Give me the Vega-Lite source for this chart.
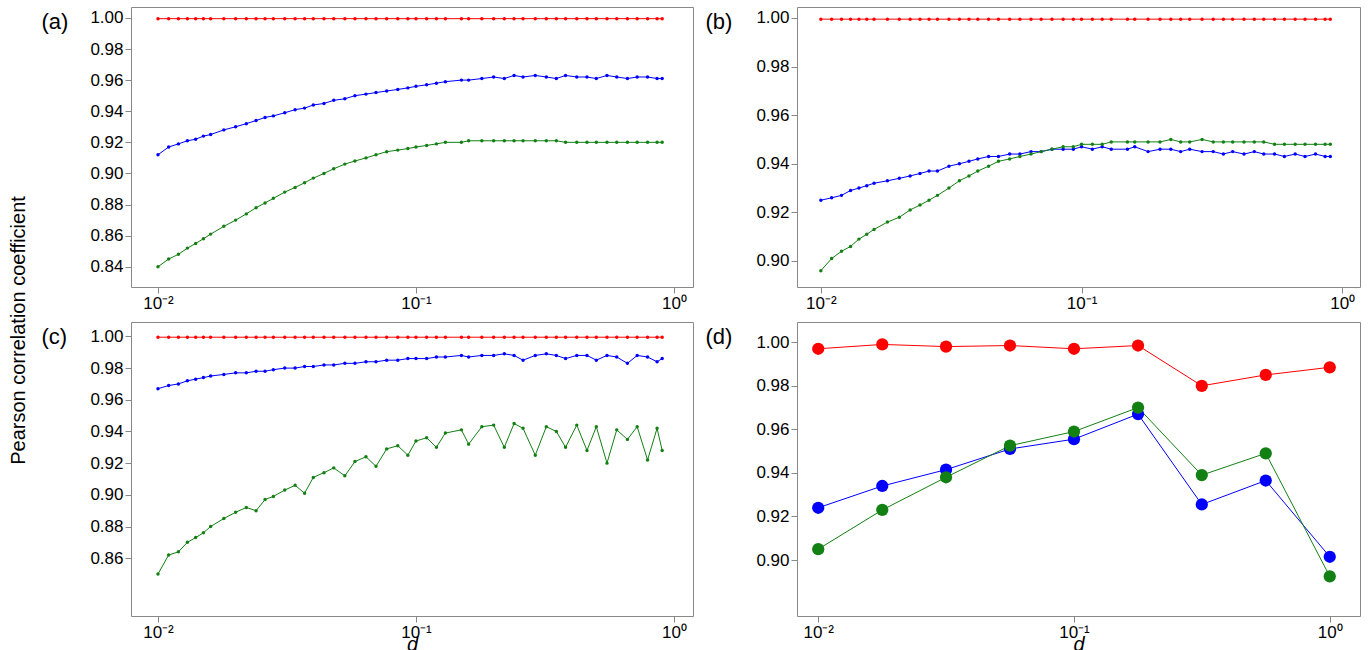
{
"$schema":"https://vega.github.io/schema/vega-lite/v6.json",
"background":"white",
"padding":{"left":8,"top":6,"right":10,"bottom":0},
"title":{"text":"Pearson correlation coefficient","orient":"left","anchor":"middle","fontSize":20,"fontWeight":"normal","font":"Liberation Sans","offset":12,"color":"black"},
"config":{"font":"Liberation Sans","view":{"stroke":"#888888","strokeWidth":1},
"axis":{"grid":false,"labelFontSize":17,"labelColor":"black","domain":false,"tickColor":"#888888","tickSize":6,"titleFontSize":20,"titleFontWeight":"normal","titleColor":"black","labelFont":"Liberation Sans","titleFont":"Liberation Sans"},
"axisY":{"titleAngle":0,"titleAlign":"left","titleBaseline":"middle","titleY":14,"titleFontSize":22},
"legend":{"disable":true}},
"resolve":{"scale":{"color":"shared"}},
"datasets":{
"m":[
{"d":0.010,"r":0.9995,"ab":0.912,"ag":0.840,"bb":0.925,"bg":0.896,"cb":0.967,"cg":0.850},
{"d":0.011,"r":0.9995,"ab":0.917,"ag":0.845,"bb":0.926,"bg":0.901,"cb":0.969,"cg":0.862},
{"d":0.012,"r":0.9995,"ab":0.919,"ag":0.848,"bb":0.927,"bg":0.904,"cb":0.970,"cg":0.864},
{"d":0.013,"r":0.9995,"ab":0.921,"ag":0.852,"bb":0.929,"bg":0.906,"cb":0.972,"cg":0.870},
{"d":0.014,"r":0.9995,"ab":0.922,"ag":0.855,"bb":0.930,"bg":0.909,"cb":0.973,"cg":0.873},
{"d":0.015,"r":0.9995,"ab":0.924,"ag":0.858,"bb":0.931,"bg":0.911,"cb":0.974,"cg":0.876},
{"d":0.016,"r":0.9995,"ab":0.925,"ag":0.861,"bb":0.932,"bg":0.913,"cb":0.975,"cg":0.880},
{"d":0.018,"r":0.9995,"ab":0.928,"ag":0.866,"bb":0.933,"bg":0.916,"cb":0.976,"cg":0.885},
{"d":0.020,"r":0.9995,"ab":0.930,"ag":0.870,"bb":0.934,"bg":0.918,"cb":0.977,"cg":0.889},
{"d":0.022,"r":0.9995,"ab":0.932,"ag":0.874,"bb":0.935,"bg":0.921,"cb":0.977,"cg":0.892},
{"d":0.024,"r":0.9995,"ab":0.934,"ag":0.878,"bb":0.936,"bg":0.923,"cb":0.978,"cg":0.890},
{"d":0.026,"r":0.9995,"ab":0.936,"ag":0.881,"bb":0.937,"bg":0.925,"cb":0.978,"cg":0.897},
{"d":0.028,"r":0.9995,"ab":0.937,"ag":0.884,"bb":0.937,"bg":0.927,"cb":0.979,"cg":0.899},
{"d":0.031,"r":0.9995,"ab":0.939,"ag":0.888,"bb":0.939,"bg":0.930,"cb":0.980,"cg":0.903},
{"d":0.034,"r":0.9995,"ab":0.941,"ag":0.891,"bb":0.940,"bg":0.933,"cb":0.980,"cg":0.906},
{"d":0.037,"r":0.9995,"ab":0.942,"ag":0.894,"bb":0.941,"bg":0.935,"cb":0.981,"cg":0.901},
{"d":0.040,"r":0.9995,"ab":0.944,"ag":0.897,"bb":0.942,"bg":0.937,"cb":0.981,"cg":0.911},
{"d":0.044,"r":0.9995,"ab":0.945,"ag":0.900,"bb":0.943,"bg":0.939,"cb":0.982,"cg":0.914},
{"d":0.048,"r":0.9995,"ab":0.947,"ag":0.903,"bb":0.943,"bg":0.941,"cb":0.982,"cg":0.917},
{"d":0.053,"r":0.9995,"ab":0.948,"ag":0.906,"bb":0.944,"bg":0.942,"cb":0.983,"cg":0.912},
{"d":0.058,"r":0.9995,"ab":0.950,"ag":0.908,"bb":0.944,"bg":0.943,"cb":0.983,"cg":0.921},
{"d":0.064,"r":0.9995,"ab":0.951,"ag":0.910,"bb":0.945,"bg":0.944,"cb":0.984,"cg":0.924},
{"d":0.070,"r":0.9995,"ab":0.952,"ag":0.912,"bb":0.945,"bg":0.945,"cb":0.984,"cg":0.918},
{"d":0.077,"r":0.9995,"ab":0.953,"ag":0.914,"bb":0.946,"bg":0.946,"cb":0.985,"cg":0.929},
{"d":0.085,"r":0.9995,"ab":0.954,"ag":0.915,"bb":0.946,"bg":0.947,"cb":0.985,"cg":0.931},
{"d":0.093,"r":0.9995,"ab":0.955,"ag":0.916,"bb":0.946,"bg":0.947,"cb":0.986,"cg":0.925},
{"d":0.10,"r":0.9995,"ab":0.956,"ag":0.917,"bb":0.947,"bg":0.948,"cb":0.986,"cg":0.934},
{"d":0.11,"r":0.9995,"ab":0.957,"ag":0.918,"bb":0.946,"bg":0.948,"cb":0.986,"cg":0.936},
{"d":0.12,"r":0.9995,"ab":0.958,"ag":0.919,"bb":0.947,"bg":0.948,"cb":0.987,"cg":0.930},
{"d":0.13,"r":0.9995,"ab":0.959,"ag":0.920,"bb":0.946,"bg":0.949,"cb":0.987,"cg":0.939},
{"d":0.15,"r":0.9995,"ab":0.960,"ag":0.920,"bb":0.946,"bg":0.949,"cb":0.988,"cg":0.941},
{"d":0.16,"r":0.9995,"ab":0.960,"ag":0.921,"bb":0.947,"bg":0.949,"cb":0.987,"cg":0.932},
{"d":0.18,"r":0.9995,"ab":0.961,"ag":0.921,"bb":0.945,"bg":0.949,"cb":0.988,"cg":0.943},
{"d":0.20,"r":0.9995,"ab":0.962,"ag":0.921,"bb":0.946,"bg":0.949,"cb":0.988,"cg":0.944},
{"d":0.22,"r":0.9995,"ab":0.961,"ag":0.921,"bb":0.946,"bg":0.950,"cb":0.989,"cg":0.930},
{"d":0.24,"r":0.9995,"ab":0.963,"ag":0.921,"bb":0.945,"bg":0.949,"cb":0.988,"cg":0.945},
{"d":0.26,"r":0.9995,"ab":0.962,"ag":0.921,"bb":0.946,"bg":0.949,"cb":0.985,"cg":0.942},
{"d":0.29,"r":0.9995,"ab":0.963,"ag":0.921,"bb":0.945,"bg":0.950,"cb":0.988,"cg":0.925},
{"d":0.32,"r":0.9995,"ab":0.962,"ag":0.921,"bb":0.945,"bg":0.949,"cb":0.989,"cg":0.943},
{"d":0.35,"r":0.9995,"ab":0.961,"ag":0.921,"bb":0.944,"bg":0.949,"cb":0.988,"cg":0.940},
{"d":0.38,"r":0.9995,"ab":0.963,"ag":0.920,"bb":0.945,"bg":0.949,"cb":0.986,"cg":0.930},
{"d":0.42,"r":0.9995,"ab":0.962,"ag":0.920,"bb":0.944,"bg":0.949,"cb":0.988,"cg":0.944},
{"d":0.46,"r":0.9995,"ab":0.962,"ag":0.920,"bb":0.945,"bg":0.949,"cb":0.988,"cg":0.928},
{"d":0.50,"r":0.9995,"ab":0.961,"ag":0.920,"bb":0.944,"bg":0.949,"cb":0.985,"cg":0.943},
{"d":0.55,"r":0.9995,"ab":0.963,"ag":0.920,"bb":0.944,"bg":0.948,"cb":0.988,"cg":0.920},
{"d":0.60,"r":0.9995,"ab":0.962,"ag":0.920,"bb":0.943,"bg":0.948,"cb":0.987,"cg":0.941},
{"d":0.66,"r":0.9995,"ab":0.961,"ag":0.920,"bb":0.944,"bg":0.948,"cb":0.983,"cg":0.935},
{"d":0.72,"r":0.9995,"ab":0.962,"ag":0.920,"bb":0.943,"bg":0.948,"cb":0.988,"cg":0.943},
{"d":0.79,"r":0.9995,"ab":0.962,"ag":0.920,"bb":0.944,"bg":0.948,"cb":0.987,"cg":0.922},
{"d":0.86,"r":0.9995,"ab":0.961,"ag":0.920,"bb":0.943,"bg":0.948,"cb":0.984,"cg":0.942},
{"d":0.90,"r":0.9995,"ab":0.961,"ag":0.920,"bb":0.943,"bg":0.948,"cb":0.986,"cg":0.928}
],
"dd":[
{"d":0.01,"r":0.997,"db":0.924,"dg":0.905},
{"d":0.0178,"r":0.999,"db":0.934,"dg":0.923},
{"d":0.0316,"r":0.998,"db":0.9415,"dg":0.938},
{"d":0.0562,"r":0.9985,"db":0.951,"dg":0.9525},
{"d":0.1,"r":0.997,"db":0.9555,"dg":0.959},
{"d":0.178,"r":0.9985,"db":0.967,"dg":0.970},
{"d":0.316,"r":0.980,"db":0.9255,"dg":0.939},
{"d":0.562,"r":0.985,"db":0.9365,"dg":0.949},
{"d":1.0,"r":0.9885,"db":0.9015,"dg":0.8925}
]},
"vconcat":[
{"hconcat":[
{"width":562,"height":280,
"data":{"name":"m"},"transform":[{"fold":["r","ab","ag"],"as":["s","v"]}],
"mark":{"type":"line","strokeWidth":1,"point":{"filled":true,"size":12}},
"encoding":{"x":{"field":"d","type":"quantitative","title":null,"scale":{"type":"log","domain":[0.00786,1.185],"nice":false},"axis":{"values":[0.01,0.1,1],"labelExpr":"datum.value<0.05?'10⁻²':datum.value<0.5?'10⁻¹':'10⁰'"}},
"y":{"field":"v","type":"quantitative","title":"(a)","scale":{"domain":[0.827,1.007],"zero":false,"nice":false},"axis":{"values":[0.84,0.86,0.88,0.90,0.92,0.94,0.96,0.98,1.0],"format":".2f","titleX":-90}},
"color":{"field":"s","type":"nominal","scale":{"domain":["r","ab","ag","bb","bg","cb","cg","db","dg"],"range":["#ff0000","#0000ff","#138013","#0000ff","#138013","#0000ff","#138013","#0000ff","#138013"]}},
"detail":{"field":"s"}}},
{"width":563,"height":280,
"data":{"name":"m"},"transform":[{"fold":["r","bb","bg"],"as":["s","v"]}],
"mark":{"type":"line","strokeWidth":1,"point":{"filled":true,"size":12}},
"encoding":{"x":{"field":"d","type":"quantitative","title":null,"scale":{"type":"log","domain":[0.0081,1.17],"nice":false},"axis":{"values":[0.01,0.1,1],"labelExpr":"datum.value<0.05?'10⁻²':datum.value<0.5?'10⁻¹':'10⁰'"}},
"y":{"field":"v","type":"quantitative","title":"(b)","scale":{"domain":[0.8893,1.0045],"zero":false,"nice":false},"axis":{"values":[0.90,0.92,0.94,0.96,0.98,1.0],"format":".2f","titleX":-92}},
"color":{"field":"s","type":"nominal"}}}
],"spacing":10},
{"hconcat":[
{"width":562,"height":294,
"data":{"name":"m"},"transform":[{"fold":["r","cb","cg"],"as":["s","v"]}],
"mark":{"type":"line","strokeWidth":1,"point":{"filled":true,"size":12}},
"encoding":{"x":{"field":"d","type":"quantitative","title":"d","scale":{"type":"log","domain":[0.00786,1.185],"nice":false},"axis":{"values":[0.01,0.1,1],"titleFontStyle":"italic","titlePadding":-6,"labelExpr":"datum.value<0.05?'10⁻²':datum.value<0.5?'10⁻¹':'10⁰'"}},
"y":{"field":"v","type":"quantitative","title":"(c)","scale":{"domain":[0.8235,1.0091],"zero":false,"nice":false},"axis":{"values":[0.86,0.88,0.90,0.92,0.94,0.96,0.98,1.0],"format":".2f","titleX":-90}},
"color":{"field":"s","type":"nominal"}}},
{"width":563,"height":294,
"data":{"name":"dd"},"transform":[{"fold":["r","db","dg"],"as":["s","v"]}],
"mark":{"type":"line","strokeWidth":1,"point":{"filled":true,"size":150,"opacity":1}},
"encoding":{"x":{"field":"d","type":"quantitative","title":"d","scale":{"type":"log","domain":[0.00826,1.313],"nice":false},"axis":{"values":[0.01,0.1,1],"titleFontStyle":"italic","titlePadding":-6,"labelExpr":"datum.value<0.05?'10⁻²':datum.value<0.5?'10⁻¹':'10⁰'"}},
"y":{"field":"v","type":"quantitative","title":"(d)","scale":{"domain":[0.8743,1.0093],"zero":false,"nice":false},"axis":{"values":[0.90,0.92,0.94,0.96,0.98,1.0],"format":".2f","titleX":-92}},
"color":{"field":"s","type":"nominal"}}}
],"spacing":10}
],"spacing":9
}
